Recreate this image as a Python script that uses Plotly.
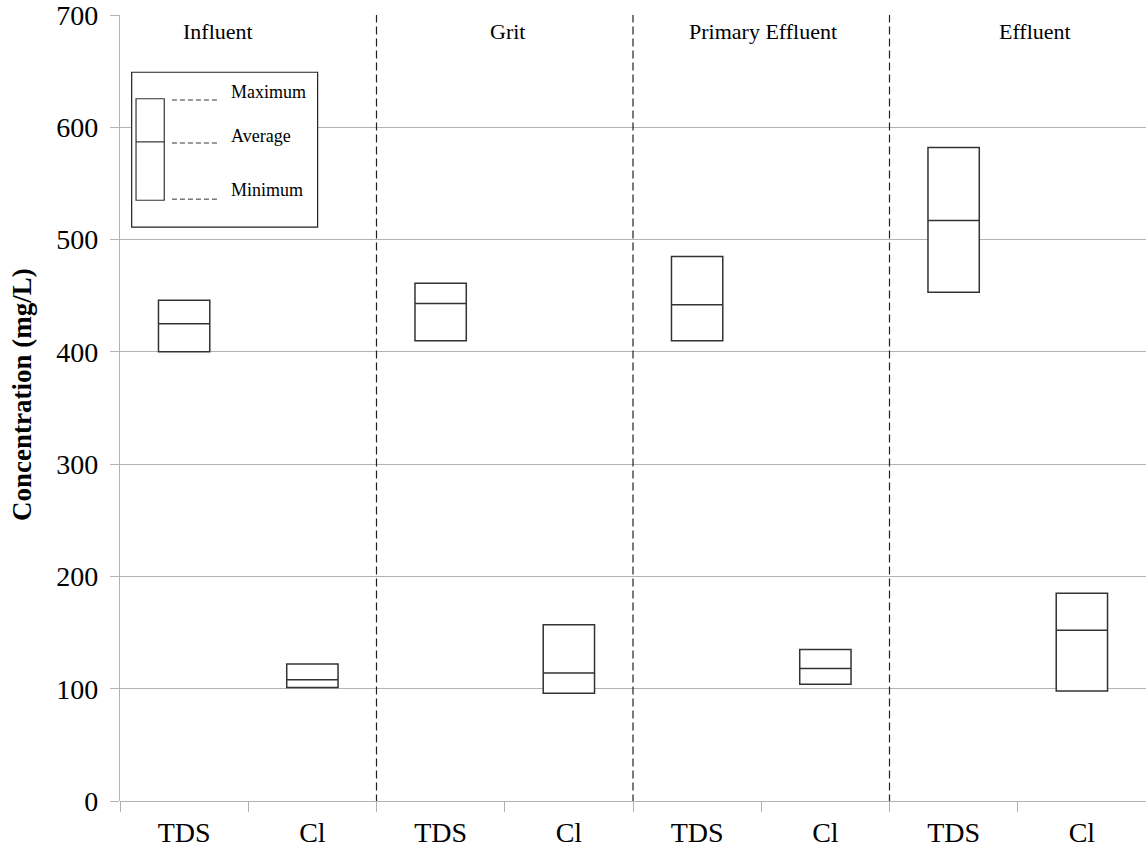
import plotly.graph_objects as go

groups = ["Influent", "Grit", "Primary Effluent", "Effluent"]
cat_ids = ["Influent TDS", "Influent Cl", "Grit TDS", "Grit Cl",
           "Primary Effluent TDS", "Primary Effluent Cl", "Effluent TDS", "Effluent Cl"]
tick_text = ["TDS", "Cl", "TDS", "Cl", "TDS", "Cl", "TDS", "Cl"]
maximum = [446, 122, 461, 157, 485, 135, 582, 185]
average = [425, 108, 443, 114, 442, 118, 517, 152]
minimum = [400, 101, 410, 96, 410, 104, 453, 98]
y_ticks = [0, 100, 200, 300, 400, 500, 600, 700]

serif = "Liberation Serif"
fig = go.Figure()
fig.add_trace(go.Box(
    x=cat_ids, q1=minimum, median=average, q3=maximum,
    lowerfence=minimum, upperfence=maximum,
    width=0.4, whiskerwidth=0, fillcolor="white",
    line=dict(color="#333333", width=1.5), showlegend=False, hoverinfo="skip",
))

shapes = []
# group separators
for b in [1.5, 3.5, 5.5]:
    shapes.append(dict(type="line", xref="x", yref="y", x0=b, x1=b, y0=-12, y1=700,
                       line=dict(color="#222222", width=1.2, dash="8px,4px")))
# legend key
shapes.append(dict(type="rect", xref="x", yref="y", x0=-0.409, x1=1.041, y0=511, y1=649,
                   line=dict(color="#222222", width=1.2), fillcolor="white", layer="above"))
shapes.append(dict(type="rect", xref="x", yref="y", x0=-0.375, x1=-0.155, y0=535, y1=625.4,
                   line=dict(color="#333333", width=1.2), layer="above"))
shapes.append(dict(type="line", xref="x", yref="y", x0=-0.375, x1=-0.155, y0=587, y1=587,
                   line=dict(color="#333333", width=1.2), layer="above"))
for yy in [624.3, 586, 536]:
    shapes.append(dict(type="line", xref="x", yref="y", x0=-0.095, x1=0.272, y0=yy, y1=yy,
                       line=dict(color="#333333", width=1, dash="5px,3px"), layer="above"))

annotations = []
for lbl, yy in [("Maximum", 631), ("Average", 592), ("Minimum", 544)]:
    annotations.append(dict(x=0.35, y=yy, xref="x", yref="y", text=lbl, showarrow=False,
                            xanchor="left", yanchor="middle",
                            font=dict(family=serif, size=18, color="black")))
for g, gx in zip(groups, [0.264, 2.524, 4.512, 6.632]):
    annotations.append(dict(x=gx, y=685, xref="x", yref="y", yanchor="middle",
                            text=g, showarrow=False,
                            font=dict(family=serif, size=22, color="black")))
annotations.append(dict(x=-0.0955, y=0.5165, xref="paper", yref="paper",
                        text="<b>Concentration (mg/L)</b>", textangle=-90, showarrow=False,
                        xanchor="center", yanchor="middle",
                        font=dict(family=serif, size=27, color="black")))

fig.update_layout(
    width=1146, height=849,
    margin=dict(l=120, r=0, t=15, b=48),
    plot_bgcolor="white", paper_bgcolor="white",
    shapes=shapes, annotations=annotations,
    showlegend=False,
    xaxis=dict(type="category", categoryorder="array", categoryarray=cat_ids,
               tickmode="array", tickvals=cat_ids, ticktext=tick_text,
               tickson="boundaries", ticks="outside", ticklen=10, tickcolor="#b0b0b0",
               ticklabelstandoff=12, ticklabeloverflow="allow",
               showgrid=False, showline=False, zeroline=False, range=[-0.5, 7.5],
               tickfont=dict(family=serif, size=28, color="black")),
    yaxis=dict(range=[0, 700], tickvals=y_ticks,
               showgrid=True, gridcolor="#b3b3b3", gridwidth=1.3,
               showline=True, linecolor="#b3b3b3", linewidth=1.3,
               zeroline=True, zerolinecolor="#b3b3b3", zerolinewidth=1.3,
               ticks="outside", ticklen=9, tickcolor="#b3b3b3",
               ticklabelstandoff=6, ticklabeloverflow="allow",
               tickfont=dict(family=serif, size=28, color="black")),
)
fig.write_html(
    "out.html",
    config={"displayModeBar": False},
    post_script="document.body.style.margin='0';document.body.style.overflow='hidden';",
)
